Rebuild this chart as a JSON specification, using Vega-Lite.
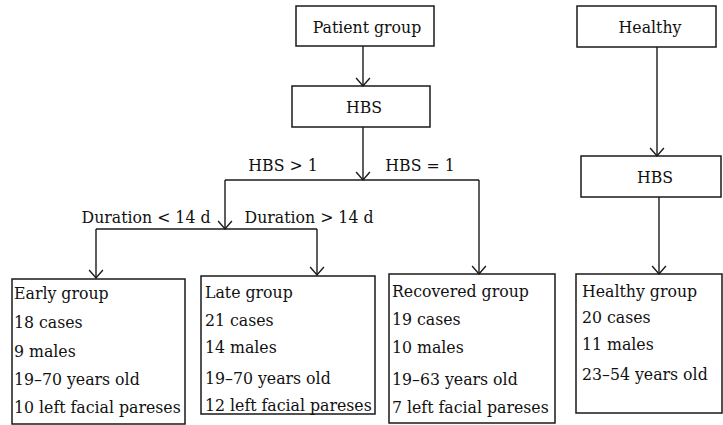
{
  "$schema": "https://vega.github.io/schema/vega-lite/v6.json",
  "width": 723,
  "height": 425,
  "padding": 0,
  "autosize": {"type": "fit", "contains": "padding"},
  "background": "white",
  "config": {"view": {"stroke": null}},
  "datasets": {
    "boxes": [
      {"name": "Patient group", "x1": 296, "x2": 434, "y1": 6, "y2": 46},
      {"name": "HBS", "x1": 292, "x2": 430, "y1": 86, "y2": 127},
      {"name": "Healthy", "x1": 577, "x2": 716, "y1": 6, "y2": 47},
      {"name": "HBS (healthy)", "x1": 581, "x2": 721, "y1": 156, "y2": 197},
      {"name": "Early group", "x1": 12, "x2": 185, "y1": 279, "y2": 424},
      {"name": "Late group", "x1": 201, "x2": 375, "y1": 276, "y2": 414},
      {"name": "Recovered group", "x1": 389, "x2": 555, "y1": 274, "y2": 423},
      {"name": "Healthy group", "x1": 576, "x2": 722, "y1": 274, "y2": 413}
    ],
    "links": [
      {"x1": 363, "y1": 46, "x2": 363, "y2": 86},
      {"x1": 363, "y1": 127, "x2": 363, "y2": 180},
      {"x1": 225, "y1": 180, "x2": 479, "y2": 180},
      {"x1": 225, "y1": 180, "x2": 225, "y2": 229},
      {"x1": 96, "y1": 229, "x2": 317, "y2": 229},
      {"x1": 96, "y1": 229, "x2": 96, "y2": 278},
      {"x1": 317, "y1": 229, "x2": 317, "y2": 275},
      {"x1": 479, "y1": 180, "x2": 479, "y2": 274},
      {"x1": 657, "y1": 47, "x2": 657, "y2": 156},
      {"x1": 659, "y1": 197, "x2": 659, "y2": 274}
    ],
    "tips": [
      {"x": 363, "y": 86},
      {"x": 363, "y": 180},
      {"x": 225, "y": 229},
      {"x": 96, "y": 278},
      {"x": 317, "y": 275},
      {"x": 479, "y": 274},
      {"x": 657, "y": 156},
      {"x": 659, "y": 274}
    ],
    "labels": [
      {"text": "Patient group", "x": 367, "y": 28, "kind": "node"},
      {"text": "HBS", "x": 364, "y": 108, "kind": "node"},
      {"text": "HBS > 1", "x": 283, "y": 166, "kind": "node"},
      {"text": "HBS = 1", "x": 420, "y": 166, "kind": "node"},
      {"text": "Duration < 14 d", "x": 146, "y": 218, "kind": "node"},
      {"text": "Duration > 14 d", "x": 309, "y": 218, "kind": "node"},
      {"text": "Healthy", "x": 650, "y": 28, "kind": "node"},
      {"text": "HBS", "x": 655, "y": 178, "kind": "node"},
      {"text": "Early group", "x": 14, "y": 294, "kind": "detail"},
      {"text": "18 cases", "x": 14, "y": 323, "kind": "detail"},
      {"text": "9 males", "x": 14, "y": 352, "kind": "detail"},
      {"text": "19–70 years old", "x": 14, "y": 380, "kind": "detail"},
      {"text": "10 left facial pareses", "x": 14, "y": 408, "kind": "detail"},
      {"text": "Late group", "x": 205, "y": 293, "kind": "detail"},
      {"text": "21 cases", "x": 205, "y": 321, "kind": "detail"},
      {"text": "14 males", "x": 205, "y": 348, "kind": "detail"},
      {"text": "19–70 years old", "x": 205, "y": 379, "kind": "detail"},
      {"text": "12 left facial pareses", "x": 205, "y": 406, "kind": "detail"},
      {"text": "Recovered group", "x": 392, "y": 292, "kind": "detail"},
      {"text": "19 cases", "x": 392, "y": 320, "kind": "detail"},
      {"text": "10 males", "x": 392, "y": 348, "kind": "detail"},
      {"text": "19–63 years old", "x": 392, "y": 380, "kind": "detail"},
      {"text": "7 left facial pareses", "x": 392, "y": 408, "kind": "detail"},
      {"text": "Healthy group", "x": 582, "y": 292, "kind": "detail"},
      {"text": "20 cases", "x": 582, "y": 318, "kind": "detail"},
      {"text": "11 males", "x": 582, "y": 345, "kind": "detail"},
      {"text": "23–54 years old", "x": 582, "y": 375, "kind": "detail"}
    ]
  },
  "layer": [
    {
      "data": {"name": "boxes"},
      "mark": {"type": "rect", "fill": "white", "stroke": "#1a1a1a", "strokeWidth": 1.5},
      "encoding": {
        "x": {"field": "x1", "type": "quantitative", "scale": {"domain": [0, 723], "nice": false, "zero": false}, "axis": null},
        "x2": {"field": "x2"},
        "y": {"field": "y1", "type": "quantitative", "scale": {"domain": [0, 425], "nice": false, "zero": false, "reverse": true}, "axis": null},
        "y2": {"field": "y2"}
      }
    },
    {
      "data": {"name": "links"},
      "mark": {"type": "rule", "stroke": "#1a1a1a", "strokeWidth": 1.4},
      "encoding": {
        "x": {"field": "x1", "type": "quantitative", "axis": null},
        "x2": {"field": "x2"},
        "y": {"field": "y1", "type": "quantitative", "axis": null},
        "y2": {"field": "y2"}
      }
    },
    {
      "data": {"name": "tips"},
      "mark": {"type": "point", "shape": "M-1,-1.15L0,0L1,-1.15", "filled": false, "stroke": "#1a1a1a", "strokeWidth": 1.4, "size": 190, "opacity": 1},
      "encoding": {
        "x": {"field": "x", "type": "quantitative", "axis": null},
        "y": {"field": "y", "type": "quantitative", "axis": null}
      }
    },
    {
      "data": {"name": "labels"},
      "transform": [{"filter": "datum.kind === 'node'"}],
      "mark": {"type": "text", "font": "DejaVu Serif Condensed", "fontSize": 17.5, "align": "center", "baseline": "middle", "color": "#111"},
      "encoding": {
        "x": {"field": "x", "type": "quantitative", "axis": null},
        "y": {"field": "y", "type": "quantitative", "axis": null},
        "text": {"field": "text"}
      }
    },
    {
      "data": {"name": "labels"},
      "transform": [{"filter": "datum.kind === 'detail'"}],
      "mark": {"type": "text", "font": "DejaVu Serif Condensed", "fontSize": 17.5, "align": "left", "baseline": "middle", "color": "#111"},
      "encoding": {
        "x": {"field": "x", "type": "quantitative", "axis": null},
        "y": {"field": "y", "type": "quantitative", "axis": null},
        "text": {"field": "text"}
      }
    }
  ]
}
